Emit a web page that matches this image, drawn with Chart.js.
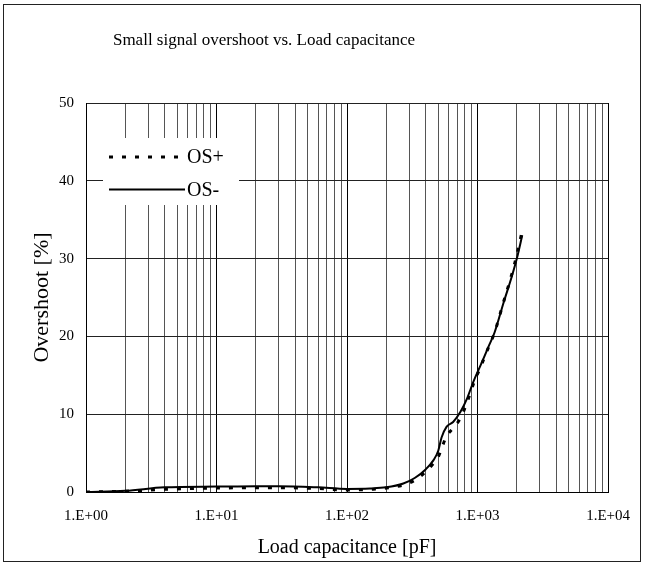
<!DOCTYPE html>
<html>
<head>
<meta charset="utf-8">
<script src="https://cdn.jsdelivr.net/npm/chart.js@4/dist/chart.umd.min.js"></script>
<style>
  body { margin: 0; background: #fff; }
  canvas { display: block; }
</style>
</head>
<body>
<canvas id="overshootChart" width="645" height="565"></canvas>
<script>
// Small signal overshoot vs load capacitance
const capacitance = [1, 2, 4, 10, 20, 30, 60, 100, 150, 200, 270, 330, 400, 460, 500, 530, 580, 650, 740, 830, 930, 1050, 1200, 1350, 1580, 1830, 2000, 2200];
const osPlus = [0, 0.1, 0.35, 0.5, 0.55, 0.55, 0.45, 0.25, 0.35, 0.5, 0.9, 1.5, 2.6, 3.7, 4.5, 5.6, 7.2, 8.2, 9.5, 11.5, 13.9, 16.0, 18.4, 20.5, 24.4, 28.0, 30.5, 33.6];
const osMinus = [0, 0.15, 0.6, 0.7, 0.75, 0.75, 0.6, 0.4, 0.45, 0.6, 1.1, 1.8, 2.9, 4.1, 5.3, 7.0, 8.4, 9.0, 10.3, 12.0, 14.2, 16.2, 18.5, 20.5, 24.3, 27.7, 30.0, 33.0];

const decades = [1, 10, 100, 1000, 10000];
const decadeLabels = ['1.E+00', '1.E+01', '1.E+02', '1.E+03', '1.E+04'];

const serif = 'Liberation Serif';

// minor gridlines 2..9 in each decade
const xTickValues = [];
for (let i = 0; i < decades.length - 1; i++) {
  for (let k = 1; k <= 9; k++) xTickValues.push(k * decades[i]);
}
xTickValues.push(decades[decades.length - 1]);

const toPoints = (ys) => capacitance.map((c, i) => ({ x: c, y: ys[i] }));

const pageFrame = {
  id: 'pageFrame',
  beforeDraw(chart) {
    const ctx = chart.ctx;
    ctx.save();
    ctx.fillStyle = '#fff';
    ctx.fillRect(0, 0, chart.width, chart.height);
    ctx.strokeStyle = '#222';
    ctx.lineWidth = 1;
    ctx.strokeRect(3.5, 4.5, 637, 557);
    ctx.restore();
  }
};

// Excel places the title off-centre
const titleShift = {
  id: 'titleShift',
  afterLayout(chart) {
    if (chart.titleBlock) {
      chart.titleBlock.left = 104;
      chart.titleBlock.right = 424;
    }
  }
};

// legend sits inside the plot, on a white box over the grid
const innerLegend = {
  id: 'innerLegend',
  afterDatasetsDraw(chart) {
    const ctx = chart.ctx;
    ctx.save();
    ctx.fillStyle = '#fff';
    ctx.fillRect(103, 138, 136, 67);
    const rows = [157, 189.5];
    chart.data.datasets.forEach((ds, i) => {
      const y = rows[i];
      ctx.beginPath();
      ctx.strokeStyle = ds.borderColor;
      ctx.lineWidth = ds.borderWidth;
      ctx.setLineDash(ds.borderDash || []);
      ctx.moveTo(109, y);
      ctx.lineTo(185, y);
      ctx.stroke();
      ctx.setLineDash([]);
      ctx.fillStyle = '#000';
      ctx.font = '20px "' + serif + '"';
      ctx.textBaseline = 'middle';
      ctx.textAlign = 'left';
      ctx.fillText(ds.label, 187, y + 1);
    });
    ctx.restore();
  }
};

const config = {
  type: 'line',
  data: {
    datasets: [{
      label: 'OS+',
      data: toPoints(osPlus),
      borderColor: '#000',
      borderWidth: 3,
      borderDash: [4, 9],
      pointRadius: 0,
      cubicInterpolationMode: 'monotone',
      fill: false
    }, {
      label: 'OS-',
      data: toPoints(osMinus),
      borderColor: '#000',
      borderWidth: 2,
      pointRadius: 0,
      cubicInterpolationMode: 'monotone',
      fill: false
    }]
  },
  options: {
    responsive: false,
    animation: false,
    layout: { padding: { left: 0, right: 34, top: 0, bottom: 0 } },
    plugins: {
      legend: { display: false },
      tooltip: { enabled: false },
      title: {
        display: true,
        text: 'Small signal overshoot vs. Load capacitance',
        color: '#000',
        font: { family: serif, size: 17, weight: 'normal' },
        padding: { top: 30, bottom: 52.6 }
      }
    },
    scales: {
      x: {
        type: 'logarithmic',
        min: 1,
        max: 10000,
        afterBuildTicks(axis) {
          axis.ticks = xTickValues.map(v => ({ value: v }));
        },
        afterFit(axis) { axis.height = 73; },
        ticks: {
          autoSkip: false,
          maxRotation: 0,
          padding: 15,
          color: '#000',
          font: { family: serif, size: 15 },
          callback(value) {
            const idx = decades.indexOf(value);
            return idx >= 0 ? decadeLabels[idx] : '';
          }
        },
        grid: {
          drawTicks: false,
          lineWidth: 1,
          color(ctx) {
            const v = ctx.tick ? ctx.tick.value : 0;
            return decades.indexOf(v) >= 0 ? '#000' : '#555';
          }
        },
        border: { display: true, color: '#000', width: 1 },
        title: {
          display: true,
          text: 'Load capacitance [pF]',
          color: '#000',
          font: { family: serif, size: 20 },
          padding: { top: 0, bottom: 5 }
        }
      },
      y: {
        min: 0,
        max: 50,
        afterFit(axis) { axis.width = 86; },
        ticks: {
          stepSize: 10,
          padding: 12,
          color: '#000',
          font: { family: serif, size: 15 }
        },
        grid: { drawTicks: false, color: '#222', lineWidth: 1 },
        border: { display: true, color: '#000', width: 1 },
        title: {
          display: true,
          text: 'Overshoot [%]',
          color: '#000',
          font: { family: serif, size: 22 },
          padding: { top: 29, bottom: 0 }
        }
      }
    }
  },
  plugins: [pageFrame, titleShift, innerLegend]
};

const overshootChart = new Chart(document.getElementById('overshootChart'), config);
</script>
</body>
</html>
